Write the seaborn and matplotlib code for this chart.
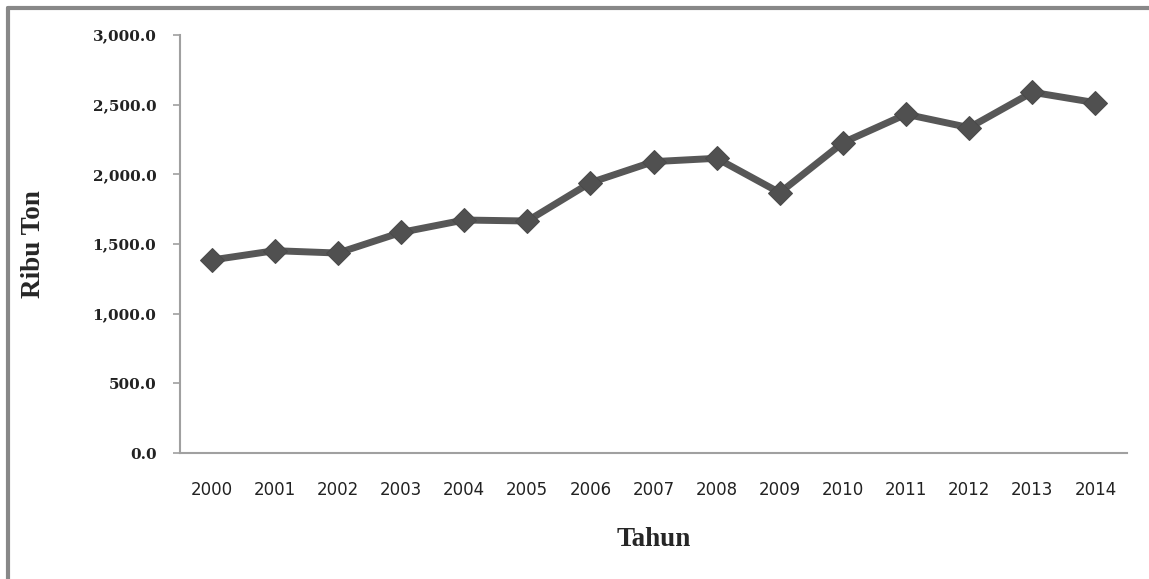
import matplotlib
matplotlib.use("Agg")
import matplotlib.pyplot as plt
from matplotlib.lines import Line2D
from matplotlib.ticker import FuncFormatter
import pandas as pd
import seaborn as sns

# data (ribu ton)
tahun = [2000, 2001, 2002, 2003, 2004, 2005, 2006, 2007,
         2008, 2009, 2010, 2011, 2012, 2013, 2014]
produksi = [1385, 1452, 1435, 1583, 1672, 1665, 1940, 2091,
            2115, 1868, 2227, 2431, 2335, 2589, 2514]
y_ticks = [0, 500, 1000, 1500, 2000, 2500, 3000]

df = pd.DataFrame({"Tahun": tahun, "Ribu Ton": produksi})

sns.set_style("white")
fig = plt.figure(figsize=(11.49, 5.79), dpi=100)
ax = fig.add_axes([0.1567, 0.2176, 0.8242, 0.7220])

sns.lineplot(data=df, x="Tahun", y="Ribu Ton", ax=ax, color="#575757",
             linewidth=5, marker="D", markersize=12,
             markeredgecolor="#4a4a4a", markerfacecolor="#505050")

ax.set_xlim(tahun[0] - 0.5, tahun[-1] + 0.5)
ax.set_ylim(0, 3000)
ax.set_xticks(tahun)
ax.set_xticklabels([str(t) for t in tahun], fontfamily="DejaVu Sans",
                   fontsize=12, color="#222222")
ax.set_yticks(y_ticks)
ax.yaxis.set_major_formatter(FuncFormatter(lambda v, p: f"{v:,.1f}"))
for lab in ax.get_yticklabels():
    lab.set_fontfamily("DejaVu Serif")
    lab.set_fontweight("bold")
    lab.set_fontsize(11)
    lab.set_color("#222222")

ax.tick_params(axis="x", length=0, pad=20)
ax.tick_params(axis="y", length=5, width=1.2, color="#a0a0a0", pad=12,
               left=True)

for side in ["top", "right"]:
    ax.spines[side].set_visible(False)
for side in ["left", "bottom"]:
    ax.spines[side].set_color("#a0a0a0")
    ax.spines[side].set_linewidth(1.5)

ax.set_xlabel("Tahun", fontfamily="Liberation Serif", fontweight="bold",
              fontsize=19.5)
ax.set_ylabel("Ribu Ton", fontfamily="Liberation Serif", fontweight="bold",
              fontsize=19.5)
ax.xaxis.set_label_coords(0.5, -0.177)
ax.yaxis.set_label_coords(-0.1415, 0.5)

# grey frame round the chart (top and left edges)
fig.add_artist(Line2D([8 / 1149, 1], [1 - 8 / 579, 1 - 8 / 579],
                      color="#888888", linewidth=3, transform=fig.transFigure))
fig.add_artist(Line2D([8 / 1149, 8 / 1149], [0, 1 - 8 / 579],
                      color="#888888", linewidth=3, transform=fig.transFigure))

fig.savefig("out.png", dpi=100)
